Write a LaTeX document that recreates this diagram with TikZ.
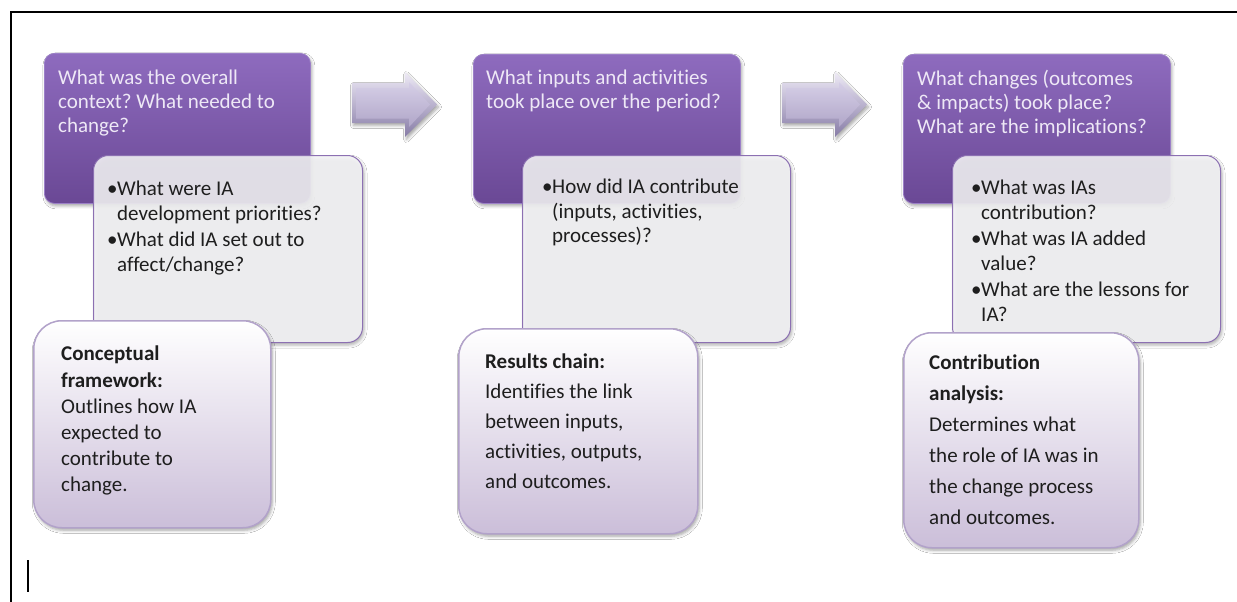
\documentclass[tikz,border=0pt]{standalone}
\usepackage{fontspec}
\setmainfont{Carlito}[Ligatures={NoCommon,NoContextual}]
\usetikzlibrary{shadows.blur}

\definecolor{stageTop}{HTML}{8E6BBE}
\definecolor{stageBot}{HTML}{6A4895}
\definecolor{stageEdge}{HTML}{9C80C8}
\definecolor{stageText}{HTML}{EEE8F6}
\definecolor{qFill}{HTML}{F5F5F7}
\definecolor{qEdge}{HTML}{8C70B2}
\definecolor{mBot}{HTML}{CBBED9}
\definecolor{mEdge}{HTML}{B2A2CA}
\definecolor{bodyText}{HTML}{1E1E1E}
\definecolor{arrHi}{HTML}{EEEAF6}
\definecolor{arrLo}{HTML}{867BA6}
\definecolor{arrFaceHi}{HTML}{D6CFE7}
\definecolor{arrFaceLo}{HTML}{B0A6C8}

\newcommand\qbul{\makebox[10pt][l]{\textbullet}}
\newcommand\qind{\hspace*{10pt}}

\tikzset{
  softshadow/.style={blur shadow={shadow xshift=1.5pt, shadow yshift=-2.5pt,
      shadow blur radius=3pt, shadow opacity=35}},
  stagebox/.style={anchor=north west, inner sep=0pt, rounded corners=10pt,
      top color=stageTop, bottom color=stageBot, draw=stageEdge,
      line width=0.8pt, softshadow},
  questionbox/.style={anchor=north west, inner sep=0pt, rounded corners=15pt,
      fill=qFill, fill opacity=0.88, draw=qEdge, line width=1pt, softshadow},
  methodbox/.style={anchor=north west, inner sep=0pt, rounded corners=28pt,
      top color=white, bottom color=mBot, draw=mEdge, line width=1.5pt,
      softshadow},
  stagetext/.style={anchor=north west, inner sep=0pt, align=left,
      text=stageText, font=\fontsize{21}{24}\selectfont},
  questiontext/.style={anchor=north west, inner sep=0pt, align=left,
      text=bodyText, font=\fontsize{21}{24.5}\selectfont},
  methodtext/.style={anchor=north west, inner sep=0pt, align=left,
      text=bodyText},
  blockarrow/.style={top color=arrHi, bottom color=arrLo, softshadow},
  blockface/.style={top color=arrFaceHi, bottom color=arrFaceLo},
}

\begin{document}
\frenchspacing
\begin{tikzpicture}[x=1pt, y=-1pt]
\useasboundingbox (0,0) rectangle (1237,602);
\clip (0,0) rectangle (1237,602);
\fill[white] (0,0) rectangle (1237,602);

% page frame and text cursor
\draw[line width=2.5pt] (11,640) -- (11,12) -- (1260,12);
\draw[line width=2pt] (28,560) -- (28,592);

% ---- stage 1: context ----
\node[stagebox, minimum width=266pt, minimum height=150pt] (s1) at (44,53) {};
\node[stagetext] (s1t) at (58,70) {What was the overall\\context? What needed to\\change?};
\node[questionbox, minimum width=269pt, minimum height=187pt] (q1) at (93,155) {};
\node[questiontext] (q1t) at (107,181) {\qbul What were IA\\\qind development priorities?\\[2pt]
  \qbul What did IA set out to\\\qind affect/change?};
\node[methodbox, minimum width=237pt, minimum height=207pt] (m1) at (33,320) {};
\node[methodtext, font=\fontsize{21}{26.2}\selectfont] (m1t) at (61,346)
  {\textbf{Conceptual}\\\textbf{framework:}\\Outlines how IA\\expected to\\contribute to\\change.};

% ---- stage 2: inputs and activities ----
\node[stagebox, minimum width=267pt, minimum height=149pt] (s2) at (473,54) {};
\node[stagetext] (s2t) at (486,70) {What inputs and activities\\took place over the period?};
\node[questionbox, minimum width=268pt, minimum height=187pt] (q2) at (522,155) {};
\node[questiontext] (q2t) at (542,179) {\qbul How did IA contribute\\\qind (inputs, activities,\\\qind processes)?};
\node[methodbox, minimum width=239pt, minimum height=205pt] (m2) at (458,328) {};
\node[methodtext, font=\fontsize{21}{30}\selectfont] (m2t) at (485,354)
  {\textbf{Results chain:}\\Identifies the link\\between inputs,\\activities, outputs,\\and outcomes.};

% ---- stage 3: changes and implications ----
\node[stagebox, minimum width=267pt, minimum height=149pt] (s3) at (903,54) {};
\node[stagetext] (s3t) at (917,70) {What changes (outcomes\\\& impacts) took place?\\What are the implications?};
\node[questionbox, minimum width=268pt, minimum height=187pt] (q3) at (952,155) {};
\node[questiontext] (q3t) at (971,180) {\qbul What was IAs\\\qind contribution?\\[2pt]
  \qbul What was IA added\\\qind value?\\[2pt]\qbul What are the lessons for\\\qind IA?};
\node[methodbox, minimum width=235pt, minimum height=215pt] (m3) at (903,332) {};
\node[methodtext, font=\fontsize{21}{31}\selectfont] (m3t) at (929,355)
  {\textbf{Contribution}\\\textbf{analysis:}\\Determines what\\the role of IA was in\\the change process\\and outcomes.};

% ---- block arrows between the stages ----
\foreach \dx in {0,430} {
  \begin{scope}[xshift=\dx]
    \shade[blockarrow] (352,83) -- (405,83) -- (405,72) -- (437,104.5)
      -- (405,137) -- (405,123) -- (352,123) -- cycle;
    \shade[blockface] (356,88) -- (409,88) -- (409,82) -- (430,104.5)
      -- (409,127) -- (409,118.5) -- (356,118.5) -- cycle;
  \end{scope}
}
\end{tikzpicture}
\end{document}
